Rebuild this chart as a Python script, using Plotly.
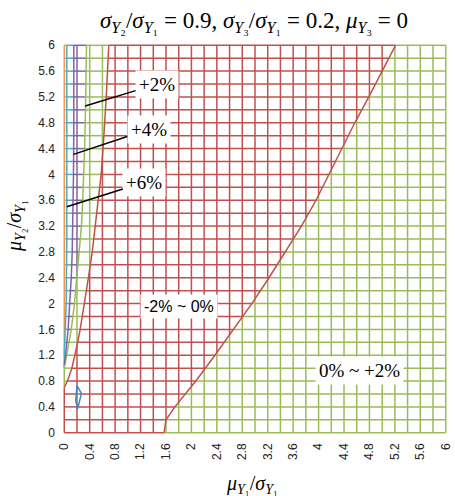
import numpy as np
import plotly.graph_objects as go

# Axis ticks (both axes share the same scale)
TICK_VALS = [0, 0.4, 0.8, 1.2, 1.6, 2, 2.4, 2.8, 3.2, 3.6, 4, 4.4, 4.8, 5.2, 5.6, 6]
TICK_TEXT = ["0", "0.4", "0.8", "1.2", "1.6", "2", "2.4", "2.8", "3.2", "3.6",
             "4", "4.4", "4.8", "5.2", "5.6", "6"]

# Contour line positions: for each mu_Y2/sigma_Y1 value, the mu_Y1/sigma_Y1 where the level is crossed
ZERO_RIGHT_Y = [0.0, 0.2, 0.4, 0.6, 0.8, 1.2, 1.6, 2.0, 2.4, 2.8, 3.2, 3.6, 4.0, 4.4, 4.8, 5.2, 5.6, 6.0]
ZERO_RIGHT_X = [1.57, 1.60, 1.74, 1.91, 2.07, 2.37, 2.66, 2.95, 3.22, 3.48, 3.73, 3.96, 4.16, 4.37, 4.57, 4.79, 5.00, 5.21]

ZERO_LEFT_Y = [0.7, 0.8, 1.0, 1.2, 1.4, 1.6, 2.0, 2.4, 2.8, 3.2, 3.6, 4.0, 4.4, 4.8, 5.2, 5.6, 6.0]
ZERO_LEFT_X = [0.0, 0.05, 0.12, 0.17, 0.21, 0.25, 0.32, 0.38, 0.44, 0.49, 0.54, 0.58, 0.61, 0.64, 0.66, 0.68, 0.70]

PLUS2_Y = [1.0, 1.2, 1.6, 2.0, 2.4, 2.8, 3.2, 3.6, 4.0, 4.4, 4.8, 5.2, 5.6, 6.0]
PLUS2_X = [0.0, 0.04, 0.11, 0.16, 0.20, 0.24, 0.27, 0.29, 0.31, 0.32, 0.33, 0.34, 0.35, 0.35]

PLUS4_Y = [1.05, 1.2, 1.6, 2.0, 2.4, 2.8, 3.2, 3.6, 4.0, 4.8, 6.0]
PLUS4_X = [0.0, 0.02, 0.06, 0.09, 0.11, 0.125, 0.135, 0.14, 0.145, 0.15, 0.15]

PLUS6_Y = [1.2, 1.6, 2.0, 3.0, 4.0, 6.0]
PLUS6_X = [0.0, 0.02, 0.03, 0.04, 0.04, 0.04]

# Small closed -2% contour near the lower-left corner
MINUS2_LOOP_X = [0.20, 0.27, 0.21, 0.18, 0.20]
MINUS2_LOOP_Y = [0.73, 0.61, 0.37, 0.50, 0.73]

COLORS = {
    "p6": "#F79646",   # +6% ~ +8%
    "p4": "#4BACC6",   # +4% ~ +6%
    "p2": "#8064A2",   # +2% ~ +4%
    "p0": "#9BBB59",   # 0% ~ +2%
    "m2": "#C0504D",   # -2% ~ 0%
    "m4": "#4F81BD",   # -4% ~ -2%
}
ORDER = ["p6", "p4", "p2", "p0", "m2", "m4"]

GRID = np.round(np.arange(0, 6.0001, 0.2), 2)
LW = 1.5


def inside_loop(x, y):
    px = np.array(MINUS2_LOOP_X)
    py = np.array(MINUS2_LOOP_Y)
    res = np.zeros(x.shape, dtype=bool)
    for i in range(len(px) - 1):
        x1, y1, x2, y2 = px[i], py[i], px[i + 1], py[i + 1]
        cond = (y1 > y) != (y2 > y)
        with np.errstate(divide="ignore", invalid="ignore"):
            xc = x1 + (y - y1) * (x2 - x1) / (y2 - y1)
        res ^= cond & (x < xc)
    return res


def band(x, y):
    c0r = np.interp(y, ZERO_RIGHT_Y, ZERO_RIGHT_X)
    c0l = np.interp(y, ZERO_LEFT_Y, ZERO_LEFT_X, left=-1.0)
    c2 = np.interp(y, PLUS2_Y, PLUS2_X, left=-1.0)
    c4 = np.interp(y, PLUS4_Y, PLUS4_X, left=-1.0)
    c6 = np.interp(y, PLUS6_Y, PLUS6_X, left=-1.0)
    b = np.full(x.shape, 3)
    b[x < c0r] = 4
    b[x < c0l] = 3
    b[x < c2] = 2
    b[x < c4] = 1
    b[x < c6] = 0
    b[inside_loop(x, y)] = 5
    return b


segs = {k: ([], []) for k in ORDER}
t = np.linspace(0, 6, 2401)


def add_runs(xs, ys, b, param):
    idx = np.flatnonzero(np.diff(b)) + 1
    starts = np.concatenate([[0], idx])
    ends = np.concatenate([idx, [len(b)]])
    for s, e in zip(starts, ends):
        p0 = param[s] if s == 0 else 0.5 * (param[s - 1] + param[s])
        p1 = param[e - 1] if e == len(b) else 0.5 * (param[e - 1] + param[e])
        sx, sy = segs[ORDER[b[s]]]
        if xs is None:
            sx += [p0, p1, None]
            sy += [ys, ys, None]
        else:
            sx += [xs, xs, None]
            sy += [p0, p1, None]


for g in GRID:
    add_runs(None, g, band(t, np.full_like(t, g)), t)   # horizontal line y = g
    add_runs(g, None, band(np.full_like(t, g), t), t)   # vertical line x = g

fig = go.Figure()
for k in ORDER:
    sx, sy = segs[k]
    if sx:
        fig.add_trace(go.Scatter(x=sx, y=sy, mode="lines",
                                 line=dict(color=COLORS[k], width=LW),
                                 hoverinfo="skip", showlegend=False))

# contour lines, coloured by the band on their lower side
for xs, ys, key in [(ZERO_RIGHT_X, ZERO_RIGHT_Y, "m2"), (ZERO_LEFT_X, ZERO_LEFT_Y, "m2"),
                    (PLUS2_X, PLUS2_Y, "p0"), (PLUS4_X, PLUS4_Y, "p2"),
                    (PLUS6_X, PLUS6_Y, "p4"), (MINUS2_LOOP_X, MINUS2_LOOP_Y, "m4")]:
    fig.add_trace(go.Scatter(x=xs, y=ys, mode="lines",
                             line=dict(color=COLORS[key], width=LW),
                             hoverinfo="skip", showlegend=False))

serif = "Liberation Serif, DejaVu Serif, serif"
sans = "Liberation Sans, Arial, sans-serif"

callouts = [
    ("+2%", 0.33, 5.06, 1.46, 5.40),
    ("+4%", 0.145, 4.31, 1.33, 4.70),
    ("+6%", 0.04, 3.50, 1.26, 3.88),
]
for txt, x0, y0, tx, ty in callouts:
    fig.add_annotation(x=x0, y=y0, ax=tx, ay=ty, xref="x", yref="y", axref="x", ayref="y",
                       text=txt, showarrow=True, arrowhead=0, arrowwidth=1.5,
                       arrowcolor="black", standoff=0, bgcolor="white", borderpad=3,
                       font=dict(family=serif, size=19, color="black"))

fig.add_annotation(x=1.8, y=1.95, xref="x", yref="y", text="-2% ~ 0%", showarrow=False,
                   bgcolor="white", borderpad=3, font=dict(family=sans, size=16, color="black"))
fig.add_annotation(x=4.65, y=0.96, xref="x", yref="y", text="0% ~ +2%", showarrow=False,
                   bgcolor="white", borderpad=3, font=dict(family=serif, size=19, color="black"))

# axis titles
fig.add_annotation(x=2.96, y=-0.13, xref="x", yref="paper", xanchor="center", yanchor="middle",
                   text="<i>μ</i><sub><i>Y</i>₁</sub>/<i>σ</i><sub><i>Y</i>₁</sub>",
                   showarrow=False, font=dict(family=serif, size=20, color="black"))
fig.add_annotation(x=-0.125, y=3.2, xref="paper", yref="y", xanchor="center", yanchor="middle",
                   textangle=-90,
                   text="<i>μ</i><sub><i>Y</i>₂</sub>/<i>σ</i><sub><i>Y</i>₁</sub>",
                   showarrow=False, font=dict(family=serif, size=20, color="black"))

fig.update_layout(
    width=455, height=496,
    margin=dict(l=63, r=2, t=44, b=62),
    paper_bgcolor="white", plot_bgcolor="white",
    title=dict(text="<i>σ</i><sub><i>Y</i>₂</sub>/<i>σ</i><sub><i>Y</i>₁</sub> = 0.9, "
                    "<i>σ</i><sub><i>Y</i>₃</sub>/<i>σ</i><sub><i>Y</i>₁</sub> = 0.2, "
                    "<i>μ</i><sub><i>Y</i>₃</sub> = 0",
               x=254 / 455, xanchor="center", y=1 - 20 / 496, yanchor="middle",
               font=dict(family=serif, size=23, color="black")),
)
fig.update_xaxes(range=[-0.02, 6.02], tickvals=TICK_VALS, ticktext=TICK_TEXT, tickangle=-90,
                 showgrid=False, zeroline=False, showline=False, ticks="",
                 ticklabeloverflow="allow", ticklabelstandoff=6,
                 tickfont=dict(family=sans, size=12, color="#222"))
fig.update_yaxes(range=[-0.02, 6.02], tickvals=TICK_VALS, ticktext=TICK_TEXT,
                 showgrid=False, zeroline=False, showline=False, ticks="",
                 ticklabelstandoff=7, tickfont=dict(family=sans, size=12, color="#222"))

fig.write_html("out.html")
